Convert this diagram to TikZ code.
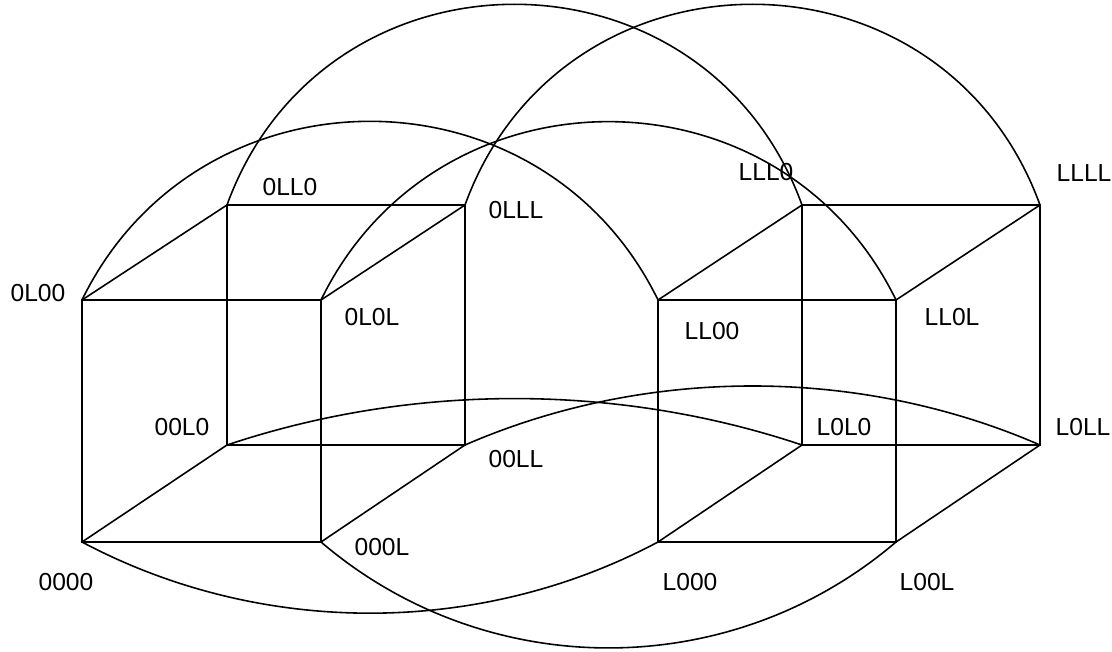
\documentclass[tikz,border=0pt]{standalone}
\usepackage{fontspec}
\setmainfont{Liberation Sans}

\begin{document}
\begin{tikzpicture}[x=0.01cm,y=-0.01cm,line width=0.45pt,
    lbl/.style={font=\fontsize{7}{8}\selectfont,inner sep=0pt},
    hop/.style={bend left=#1}]
\useasboundingbox (0,0) rectangle (1112,652);

% vertices, left cube
\coordinate (v0000) at (82,542);
\coordinate (v0001) at (321,542);
\coordinate (v0101) at (321,300);
\coordinate (v0100) at (82,300);
\coordinate (v0010) at (227,445);
\coordinate (v0011) at (465,445);
\coordinate (v0111) at (465,205);
\coordinate (v0110) at (227,205);
% vertices, right cube
\coordinate (v1000) at (658,542);
\coordinate (v1001) at (896,542);
\coordinate (v1101) at (896,300);
\coordinate (v1100) at (658,300);
\coordinate (v1010) at (802,445);
\coordinate (v1011) at (1040,445);
\coordinate (v1111) at (1040,205);
\coordinate (v1110) at (802,205);

% labels
\node[lbl] (t0000) at (66,582) {0000};
\node[lbl] (t0001) at (382,547) {000L};
\node[lbl] (t0101) at (372,317) {0L0L};
\node[lbl] (t0100) at (38,293) {0L00};
\node[lbl] (t0010) at (182,427) {00L0};
\node[lbl] (t0011) at (516,459) {00LL};
\node[lbl] (t0111) at (516,210) {0LLL};
\node[lbl] (t0110) at (290,187) {0LL0};
\node[lbl] (t1000) at (690,582) {L000};
\node[lbl] (t1001) at (927,582) {L00L};
\node[lbl] (t1101) at (952,317) {LL0L};
\node[lbl] (t1100) at (712,331) {LL00};
\node[lbl] (t1010) at (844,427) {L0L0};
\node[lbl] (t1011) at (1083,427) {L0LL};
\node[lbl] (t1111) at (1084,173) {LLLL};
\node[lbl] (t1110) at (766,172) {LLL0};

% cubes
\foreach \c in {0,1} {
  \draw (v\c000) -- (v\c001) -- (v\c101) -- (v\c100) -- cycle;
  \draw (v\c010) -- (v\c011) -- (v\c111) -- (v\c110) -- cycle;
  \draw (v\c000) -- (v\c010);
  \draw (v\c001) -- (v\c011);
  \draw (v\c101) -- (v\c111);
  \draw (v\c100) -- (v\c110);
}

% arcs between the cubes
\draw (v0110) to[hop=70,looseness=1.27] (v1110);
\draw (v0111) to[hop=70,looseness=1.27] (v1111);
\draw (v0100) to[hop=64,looseness=1.18] (v1100);
\draw (v0101) to[hop=64,looseness=1.18] (v1101);
\draw (v0010) to[hop=18.5,looseness=0.87] (v1010);
\draw (v0011) to[hop=23.5,looseness=0.88] (v1011);
\draw (v0000) to[hop=-28,looseness=0.9] (v1000);
\draw (v0001) to[hop=-40.5,looseness=0.97] (v1001);
\end{tikzpicture}
\end{document}
